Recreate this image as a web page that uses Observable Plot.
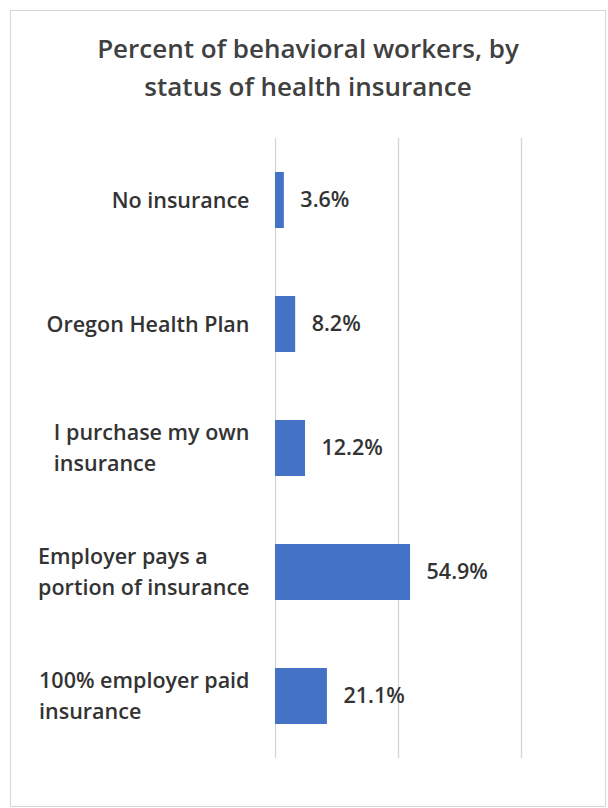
<!DOCTYPE html>
<html>
<head>
<meta charset="utf-8">
<script src="https://cdn.jsdelivr.net/npm/d3@7"></script>
<script src="https://cdn.jsdelivr.net/npm/@observablehq/plot@0.6"></script>
<style>
  html, body { margin: 0; padding: 0; background: #fff; }
  #frame { position: absolute; left: 10px; top: 10px; width: 596px; height: 797px; border: 1px solid #d6d6d6; box-sizing: border-box; }
  #title { position: absolute; left: 0; top: 29px; width: 616px; text-align: center; font-family: "Open Sans", sans-serif; font-weight: 600; font-size: 26px; line-height: 38px; color: #404040; }
  #chart { position: absolute; left: 0; top: 120px; }
</style>
</head>
<body>
<div id="frame"></div>
<div id="title">Percent of behavioral workers, by<br>status of health insurance</div>
<div id="chart"></div>
<script>
const categories = ["No insurance", "Oregon Health Plan", "I purchase my own\ninsurance", "Employer pays a\nportion of insurance", "100% employer paid\ninsurance"];
const values = [3.6, 8.2, 12.2, 54.9, 21.1];
const valueLabels = ["3.6%", "8.2%", "12.2%", "54.9%", "21.1%"];
const gridTicks = [0, 50, 100];

const data = categories.map((c, i) => ({category: c, value: values[i], label: valueLabels[i]}));

const FS = 21.5;
const FONT = `600 ${FS}px 'Open Sans'`;
const ctx = document.createElement("canvas").getContext("2d");
ctx.font = FONT;
const measure = s => Math.max(...s.split("\n").map(l => ctx.measureText(l).width));

const labelMarks = categories.map(c => Plot.text([c], {
  y: d => d,
  text: d => d,
  frameAnchor: "left",
  textAnchor: "start",
  dx: -(26 + measure(c)),
  dy: -3,
  lineHeight: 1.47,
  fontSize: FS,
  fontWeight: 600,
  fill: "#333"
}));

const chart = Plot.plot({
  width: 608,
  height: 660,
  marginTop: 18,
  marginBottom: 22,
  marginLeft: 275,
  marginRight: 87,
  style: {fontFamily: "'Open Sans', sans-serif", background: "transparent"},
  x: {domain: [0, 100], ticks: gridTicks, axis: null},
  y: {domain: categories, paddingInner: 0.55, paddingOuter: 0.275, axis: null},
  marks: [
    Plot.ruleX(gridTicks, {stroke: "#d3d3d3", strokeWidth: 1.2}),
    Plot.barX(data, {x: "value", y: "category", fill: "#4472C4"}),
    Plot.text(data, {x: "value", y: "category", text: "label", textAnchor: "start", dx: 16, fontSize: FS, fontWeight: 600, fill: "#333"}),
    ...labelMarks
  ]
});
document.getElementById("chart").appendChild(chart);
</script>
</body>
</html>
